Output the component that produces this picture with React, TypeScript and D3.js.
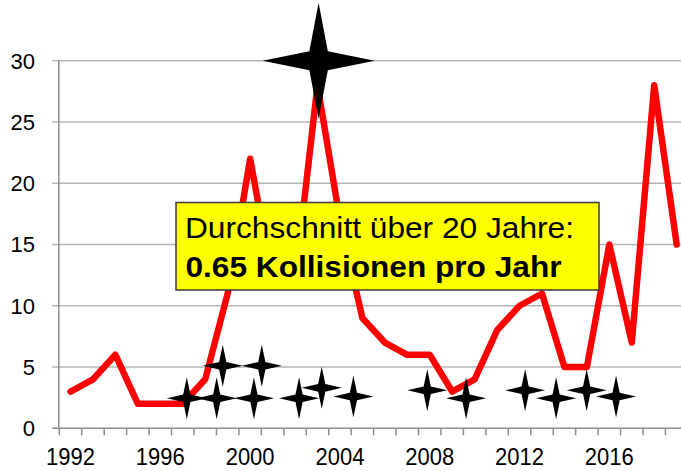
import React from "react";
import * as d3 from "d3";

const years: number[] = d3.range(1992, 2020);
const collisions: number[] = [3, 4, 6, 2, 2, 2, 4, 11, 22, 12, 12, 28, 17, 9, 7, 6, 6, 3, 4, 8, 10, 11, 5, 5, 15, 7, 28, 15];
const yTicks: number[] = [0, 5, 10, 15, 20, 25, 30];
const xTickLabels: number[] = [1992, 1996, 2000, 2004, 2008, 2012, 2016];

// star annotations (year position, value)
const starYears: number[] = [1997.18, 1998.51, 1998.78, 2000.17, 2000.52, 2002.18, 2003.19, 2004.6, 2007.89, 2009.62, 2012.25, 2013.63, 2014.99, 2016.3];
const starValues: number[] = [2.45, 2.45, 5.1, 2.45, 5.1, 2.45, 3.3, 2.6, 3.1, 2.45, 3.1, 2.45, 3.1, 2.6];
const bigStarYear = 2003.05;
const bigStarValue = 30;

const noteLine1 = "Durchschnitt über 20 Jahre:";
const noteLine2 = "0.65 Kollisionen pro Jahr";

const W = 681;
const H = 471;
const left = 59.3;
const band = 22.45;
const y0 = 428.3;
const yTop = 60.7;

function starPath(cx: number, cy: number, rx: number, ry: number, k: number): string {
  const ix = rx * k;
  const iy = ry * k;
  return `M${cx},${cy - ry}L${cx + ix},${cy - iy}L${cx + rx},${cy}L${cx + ix},${cy + iy}L${cx},${cy + ry}L${cx - ix},${cy + iy}L${cx - rx},${cy}L${cx - ix},${cy - iy}Z`;
}

export default function App() {
  const x = d3.scaleBand<number>().domain(years).range([left, left + band * years.length]).padding(0);
  const xc = (yr: number) => (x(yr) as number) + x.bandwidth() / 2;
  const xf = d3.scaleLinear().domain([1992, 2019]).range([xc(1992), xc(2019)]);
  const y = d3.scaleLinear().domain([0, 30]).range([y0, yTop]);

  const line = d3
    .line<number>()
    .x((_, i) => xc(years[i]))
    .y((d) => y(d));

  const font = "'Liberation Sans', Arial, sans-serif";
  const axisRight = left + band * years.length;

  return (
    <svg width={W} height={H} style={{ position: "absolute", left: 0, top: 0, background: "#fff" }} fontFamily={font}>
      <rect x={0} y={0} width={W} height={H} fill="#fff" />
      {yTicks.map((t) => (
        <g key={t}>
          <line x1={left - 7} x2={axisRight} y1={y(t)} y2={y(t)} stroke={t === 0 ? "#8c8c8c" : "#b4b4b4"} strokeWidth={1.5} />
          <text x={35} y={y(t)} dy="0.36em" textAnchor="end" fontSize={22} fill="#000">
            {t}
          </text>
        </g>
      ))}
      <line x1={left - 0.5} x2={left - 0.5} y1={y(30)} y2={y0} stroke="#8c8c8c" strokeWidth={1.5} />
      {years.concat([2020]).map((yr, i) => (
        <line key={yr} x1={left + i * band} x2={left + i * band} y1={y0} y2={y0 + 7} stroke="#8c8c8c" strokeWidth={1.5} />
      ))}
      {xTickLabels.map((yr) => (
        <text key={yr} x={xc(yr)} y={465} textAnchor="middle" fontSize={22} fill="#000" transform={`translate(0,465) scale(1,1.08) translate(0,-465)`}>
          {yr}
        </text>
      ))}
      <path d={line(collisions) || ""} fill="none" stroke="#ff0000" strokeWidth={6.5} strokeLinejoin="round" strokeLinecap="round" />
      {starYears.map((yr, i) => (
        <path key={i} d={starPath(xf(yr), y(starValues[i]), 20, 21, 0.18)} fill="#000" />
      ))}
      <path d={starPath(xf(bigStarYear), y(bigStarValue), 56, 58, 0.165)} fill="#000" />
      <rect x={176} y={202.5} width={423} height={87.5} fill="#ffff00" stroke="#3a3a3a" strokeWidth={1.5} />
      <text x={185} y={238.3} fontSize={29} fill="#000" textLength={389} lengthAdjust="spacingAndGlyphs">
        {noteLine1}
      </text>
      <text x={185.5} y={276.7} fontSize={30} fontWeight="bold" fill="#000" textLength={376} lengthAdjust="spacingAndGlyphs">
        {noteLine2}
      </text>
    </svg>
  );
}
